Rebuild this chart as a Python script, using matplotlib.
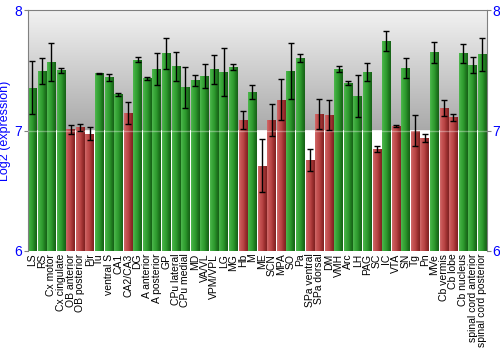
#!/usr/bin/env python3
# coding: utf-8

import numpy as np
import matplotlib
matplotlib.use('Agg')
import matplotlib.pyplot as plt
from matplotlib.colors import LinearSegmentedColormap

regions = ['LS', 'RS', 'Cx motor', 'Cx cingulate', 'OB anterior', 'OB posterior',
           'Pir', 'Tu', 'ventral S', 'CA1', 'CA2/CA3', 'DG', 'A anterior',
           'A posterior', 'GP', 'CPu lateral', 'CPu medial', 'MD', 'VA/VL',
           'VPM/VPL', 'LG', 'MG', 'Hb', 'M', 'ME', 'SCN', 'MPA', 'SO', 'Pa',
           'SPa ventral', 'SPa dorsal', 'DM', 'VMH', 'Arc', 'LH', 'PAG', 'SC',
           'IC', 'VTA', 'SN', 'Tg', 'Pn', 'MVe', 'Cb vermis', 'Cb lobe',
           'Cb nucleus', 'spinal cord anterior', 'spinal cord posterior']

expression = [7.355, 7.494, 7.571, 7.502, 7.010, 7.026, 6.974, 7.474, 7.441,
              7.300, 7.148, 7.590, 7.433, 7.510, 7.640, 7.535, 7.361, 7.419,
              7.452, 7.510, 7.488, 7.527, 7.090, 7.320, 6.708, 7.087, 7.256,
              7.494, 7.604, 6.753, 7.137, 7.126, 7.508, 7.397, 7.286, 7.485,
              6.846, 7.740, 7.037, 7.521, 7.000, 6.938, 7.649, 7.184, 7.110,
              7.640, 7.544, 7.632]

error = [0.22, 0.11, 0.16, 0.02, 0.04, 0.03, 0.055, 0.005, 0.026, 0.015,
         0.09, 0.022, 0.01, 0.13, 0.125, 0.12, 0.17, 0.045, 0.10, 0.12, 0.20,
         0.022, 0.073, 0.06, 0.22, 0.13, 0.17, 0.235, 0.033, 0.09, 0.127,
         0.125, 0.025, 0.018, 0.175, 0.073, 0.022, 0.083, 0.005, 0.081, 0.13,
         0.035, 0.084, 0.067, 0.028, 0.083, 0.07, 0.14]

# regions flagged as low (red) in the original
low = {'OB anterior', 'OB posterior', 'Pir', 'CA2/CA3', 'Hb', 'ME', 'SCN',
       'MPA', 'SPa ventral', 'SPa dorsal', 'DM', 'SC', 'VTA', 'Tg', 'Pn',
       'Cb vermis', 'Cb lobe'}

green_cmap = LinearSegmentedColormap.from_list(
    'g', ['#4fb84f', '#3aa83a', '#2e9a2e', '#1f7a1f', '#176017'])
red_cmap = LinearSegmentedColormap.from_list(
    'r', ['#d06a6a', '#c55252', '#b84444', '#9a2e2e', '#7e2222'])


def main():
    fig = plt.figure(figsize=(5, 3.5), dpi=100)
    ax = fig.add_axes([0.055, 0.283, 0.919, 0.688])
    x = np.arange(len(regions))
    ax.set_xlim(-0.5, len(regions) - 0.5)
    ax.set_ylim(6, 8)

    # background: gray gradient above 7, white below
    grad = np.linspace(0, 1, 256).reshape(-1, 1)
    bg = LinearSegmentedColormap.from_list('bg', ['#a9a9a9', '#f2f2f2'])
    ax.imshow(grad, cmap=bg, aspect='auto', origin='lower',
              extent=(-0.5, len(regions) - 0.5, 7, 8), zorder=0)
    ax.axhline(7, color='white', lw=1.2, zorder=1)

    bars = ax.bar(x, np.array(expression) - 6, bottom=6, width=0.9,
                  color='none', edgecolor='none', zorder=2)
    hgrad = np.linspace(0, 1, 64).reshape(1, -1)
    for name, rect in zip(regions, bars):
        cmap = red_cmap if name in low else green_cmap
        x0 = rect.get_x()
        im = ax.imshow(hgrad, cmap=cmap, aspect='auto',
                       extent=(x0, x0 + rect.get_width(), 6, rect.get_y() + rect.get_height()),
                       zorder=2)
        im.set_clip_path(rect)

    ax.axhline(7, color='white', lw=1.0, alpha=0.35, zorder=3)
    ax.errorbar(x, expression, yerr=error, fmt='none', ecolor='black',
                elinewidth=1.0, capsize=2.2, capthick=1.0, zorder=4)

    ax.set_xticks(x)
    ax.set_xticklabels(regions, rotation=90, fontsize=7.5,
                       family='Liberation Sans')
    ax.tick_params(axis='x', length=0, pad=2)
    ax.set_yticks([6, 7, 8])
    ax.tick_params(axis='y', length=3, color='#808080', labelcolor='blue',
                   labelsize=10, left=True, right=True,
                   labelleft=True, labelright=True, pad=1)
    for lab in ax.get_yticklabels():
        lab.set_family('Liberation Sans')
    ax.set_ylabel('Log2 (expression)', color='blue', fontsize=9,
                  family='Liberation Sans', labelpad=2)
    for s in ax.spines.values():
        s.set_color('#808080')
    ax.spines['bottom'].set_visible(False)

    fig.savefig('out.png', dpi=100)


if __name__ == '__main__':
    main()
